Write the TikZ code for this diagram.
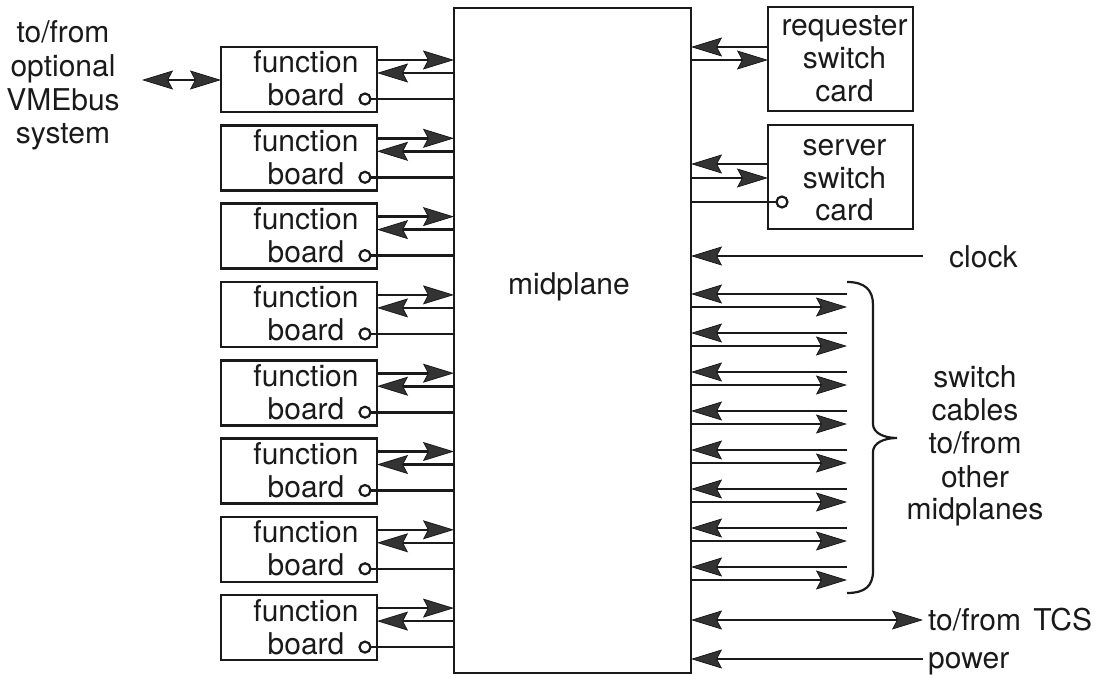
\documentclass[tikz,border=0pt]{standalone}
\usepackage{fontspec}
\setmainfont{TeX Gyre Heros}
\usetikzlibrary{arrows.meta,calc}
\definecolor{ink}{HTML}{1A1A1A}
\definecolor{headfill}{HTML}{333333}
\tikzset{
  head/.tip={Stealth[length=31pt,width=19pt,inset=5pt,line width=0.8pt,fill=headfill]}
}
\begin{document}
\begin{tikzpicture}[x=1pt,y=-1pt,
  box/.style={draw=ink,line width=2.6pt,inner sep=0pt,outer sep=0pt,anchor=north west},
  board/.style={box,minimum width=156pt,minimum height=65pt},
  card/.style={box,minimum width=145pt,minimum height=104pt},
  wire/.style={draw=ink,line width=2.6pt},
  fw/.style={wire,-head},
  both/.style={wire,head-head},
  lbl/.style={font=\fontsize{30}{33}\selectfont,text=ink,inner sep=0pt,anchor=base},
  lblw/.style={lbl,anchor=base west},
  port/.style={circle,draw=ink,line width=2.2pt,minimum size=11pt,inner sep=0pt,outer sep=0pt}]
\useasboundingbox (0,0) rectangle (1120,679);

% midplane
\node[box,minimum width=237pt,minimum height=665pt] (mid) at (454,8) {};
\node[lbl] (midlbl) at (569,295) {midplane};

% function boards with their links to the midplane
\foreach \i in {1,...,8}{
  \pgfmathsetmacro\t{47+78.3*(\i-1)}
  \node[board] (b\i) at (221,\t) {};
  \node[lbl] (bf\i) at ($(b\i.north west)+(85,26)$) {function};
  \node[lbl] (bb\i) at ($(b\i.north west)+(85,59)$) {board};
  \node[port] (bp\i) at ($(b\i.north west)+(144,52)$) {};
  \coordinate (bo\i) at ($(b\i.north east)+(0,13)$);
  \coordinate (bi\i) at ($(b\i.north east)+(0,26)$);
  \draw[fw] (bo\i) -- (bo\i -| mid.west);
  \draw[fw] (bi\i -| mid.west) -- (bi\i);
  \draw[wire] (bp\i) -- (bp\i -| mid.west);
}

% optional VMEbus link
\coordinate (vme) at (142,80);
\draw[both] (vme) -- (vme -| b1.west);
\node[lbl] (v1) at (63,43) {to/from};
\node[lbl] (v2) at (63,77) {optional};
\node[lbl] (v3) at (63,111) {VMEbus};
\node[lbl] (v4) at (63,144) {system};

% requester switch card
\node[card] (req) at (768,7) {};
\node[lbl] (r1) at ($(req.north west)+(76.5,29)$) {requester};
\node[lbl] (r2) at ($(req.north west)+(76.5,62)$) {switch};
\node[lbl] (r3) at ($(req.north west)+(76.5,95)$) {card};
\coordinate (rq1) at ($(req.north west)+(0,40)$);
\coordinate (rq2) at ($(req.north west)+(0,53)$);
\draw[fw] (rq1) -- (rq1 -| mid.east);
\draw[fw] (rq2 -| mid.east) -- (rq2);

% server switch card
\node[card] (srv) at (768,125) {};
\node[lbl] (s1) at ($(srv.north west)+(76.5,31)$) {server};
\node[lbl] (s2) at ($(srv.north west)+(76.5,63.5)$) {switch};
\node[lbl] (s3) at ($(srv.north west)+(76.5,96)$) {card};
\node[port] (sp) at ($(srv.north west)+(14,77)$) {};
\coordinate (sv1) at ($(srv.north west)+(0,39)$);
\coordinate (sv2) at ($(srv.north west)+(0,53)$);
\draw[fw] (sv1) -- (sv1 -| mid.east);
\draw[fw] (sv2 -| mid.east) -- (sv2);
\draw[wire] (sp) -- (sp -| mid.east);

% clock
\coordinate (clk) at (923,256);
\draw[fw] (clk) -- (clk -| mid.east);
\node[lblw] (clklbl) at (949,268) {clock};

% switch cables
\foreach \k in {0,...,7}{
  \coordinate (ci\k) at (847,{294+39*\k});
  \coordinate (co\k) at (847,{307+39*\k});
  \draw[fw] (ci\k) -- (ci\k -| mid.east);
  \draw[fw] (co\k -| mid.east) -- (co\k);
}
\draw[ink,line width=2.2pt]
  (847,282) .. controls (865,282) and (873,290) .. (873,305)
  -- (873,424) .. controls (873,433) and (884,438) .. (897,438)
  .. controls (884,438) and (873,443) .. (873,452)
  -- (873,571) .. controls (873,586) and (865,593) .. (847,593);
\node[lbl] (w1) at (975,387) {switch};
\node[lbl] (w2) at (975,420) {cables};
\node[lbl] (w3) at (975,453.5) {to/from};
\node[lbl] (w4) at (975,487) {other};
\node[lbl] (w5) at (975,519) {midplanes};

% TCS and power
\coordinate (tcs) at (923,620);
\draw[both] (tcs -| mid.east) -- (tcs);
\node[lblw] (tcslbl) at (928,630) {to/from\hspace{4pt} TCS};
\coordinate (pwr) at (923,659);
\draw[fw] (pwr) -- (pwr -| mid.east);
\node[lblw] (pwrlbl) at (928,668) {power};
\end{tikzpicture}
\end{document}
